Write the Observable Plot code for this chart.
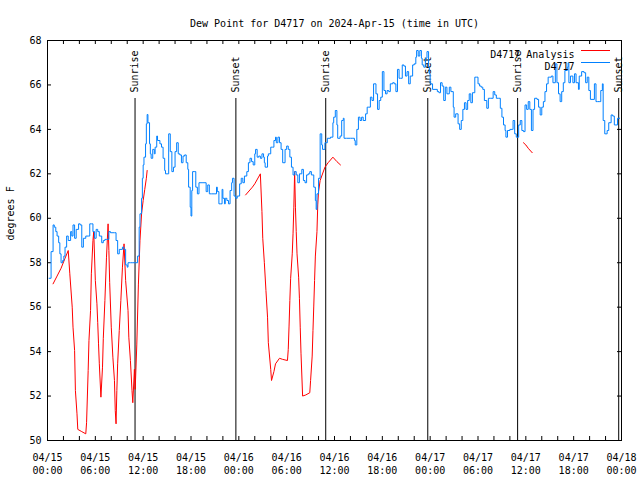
<!DOCTYPE html>
<html>
<head>
<meta charset="utf-8">
<script src="https://cdn.jsdelivr.net/npm/d3@7"></script>
<script src="https://cdn.jsdelivr.net/npm/@observablehq/plot@0.6"></script>
<style>
  html, body { margin: 0; padding: 0; background: white; }
</style>
</head>
<body>
<div id="chart"></div>
<script>
// ---- data (hours since 2024-04-15 00:00 UTC) ----
const titleText = "Dew Point for D4717 on 2024-Apr-15 (time in UTC)";
const yLabel = "degrees F";
const obsName = "D4717";
const anaName = "D4717 Analysis";

const xTickHours = [0, 6, 12, 18, 24, 30, 36, 42, 48, 54, 60, 66, 72];
const xTickLabels = ["04/15\n00:00", "04/15\n06:00", "04/15\n12:00", "04/15\n18:00",
  "04/16\n00:00", "04/16\n06:00", "04/16\n12:00", "04/16\n18:00",
  "04/17\n00:00", "04/17\n06:00", "04/17\n12:00", "04/17\n18:00", "04/18\n00:00"];
const yTicks = [50, 52, 54, 56, 58, 60, 62, 64, 66, 68];

const sunHours = [10.98, 23.63, 34.9, 47.7, 58.97, 71.65];
const sunLabels = ["Sunrise", "Sunset", "Sunrise", "Sunset", "Sunrise", "Sunset"];

const obsHours = [0.2,0.45,0.7,0.85,1.04,1.2,1.4,1.55,1.7,1.9,2.05,2.2,2.4,2.6,2.9,3.05,3.2,3.4,3.6,3.9,4.1,4.3,4.5,4.8,5.1,5.3,5.5,5.7,5.9,6.1,6.3,6.5,6.8,7.0,7.2,7.4,7.7,7.9,8.4,8.6,8.8,9.0,9.4,9.6,9.8,10.0,10.1,10.4,10.7,11.0,11.3,11.5,11.6,11.8,11.9,12.0,12.1,12.3,12.4,12.5,12.6,12.8,12.9,13.0,13.2,13.4,13.5,13.7,13.8,14.1,14.3,14.5,14.7,14.8,15.0,15.2,15.4,15.6,15.8,16.0,16.2,16.4,16.6,16.8,17.0,17.2,17.4,17.6,17.7,17.9,18.0,18.1,18.2,18.4,18.6,18.8,19.0,19.5,19.9,20.1,20.3,20.6,21.0,21.2,21.3,21.5,21.7,21.9,22.0,22.2,22.3,22.5,22.7,22.9,23.1,23.2,23.4,23.6,23.8,24.1,24.3,24.5,24.7,25.0,25.2,25.4,25.6,25.8,26.0,26.1,26.3,26.5,26.7,26.9,27.1,27.2,27.3,27.6,27.7,28.0,28.2,28.4,28.6,28.7,28.9,29.1,29.3,29.5,29.8,30.0,30.2,30.4,30.6,30.8,31.0,31.2,31.4,31.6,31.9,32.1,32.3,32.5,32.7,32.9,33.1,33.4,33.6,33.7,33.8,34.0,34.2,34.4,34.5,34.8,35.1,35.5,35.8,35.9,36.1,36.3,36.4,36.7,36.9,37.1,37.2,37.5,38.0,38.3,38.5,38.6,38.8,39.0,39.2,39.4,39.6,39.9,40.1,40.3,40.5,40.7,40.9,41.2,41.4,41.6,41.8,42.0,42.2,42.4,42.6,42.8,43.0,43.3,43.5,43.7,43.9,44.1,44.3,44.5,44.7,44.9,45.1,45.3,45.5,45.8,46.0,46.2,46.3,46.5,46.7,46.9,47.0,47.2,47.4,47.6,47.8,47.9,48.0,48.3,48.9,49.1,49.3,49.5,49.7,49.9,50.1,50.4,50.6,50.9,51.0,51.2,51.5,51.7,51.9,52.1,52.3,52.5,52.7,52.9,53.1,53.3,53.6,53.8,54.0,54.2,54.4,54.6,54.8,55.1,55.3,55.6,55.9,56.1,56.3,56.6,56.8,57.0,57.2,57.4,57.5,57.7,58.0,58.3,58.4,58.6,58.8,59.1,59.3,59.5,59.7,59.9,60.1,60.3,60.5,60.7,60.9,61.1,61.4,61.6,61.8,62.0,62.2,62.4,62.6,62.8,63.0,63.2,63.4,63.7,63.9,64.1,64.3,64.5,64.7,64.9,65.2,65.3,65.4,65.6,65.9,66.1,66.3,66.6,66.7,67.0,67.3,67.5,67.7,67.9,68.1,68.3,68.6,68.8,69.0,69.2,69.4,69.6,69.7,69.9,70.2,70.4,70.7,70.9,71.1,71.3,71.5,71.8];
const obsValues = [57.3,58.5,59.7,59.6,59.4,59.2,58.9,58.4,58.0,58.1,58.3,58.7,59.2,59.0,59.4,59.2,59.7,59.1,59.5,59.75,59.7,58.7,59.1,59.2,59.2,59.75,59.75,59.4,59.1,59.5,59.4,59.2,58.9,59.0,59.05,59.05,59.4,59.35,59.35,59.0,58.4,58.6,58.7,58.6,57.9,57.8,58.0,58.0,58.0,58.0,58.3,59.6,60.2,60.9,61.8,62.4,62.75,63.35,64.25,64.67,64.3,63.35,62.9,62.7,63.1,62.9,63.2,63.7,63.5,63.35,63.2,62.7,62.15,62.0,62.0,63.8,63.0,62.1,62.3,63.0,63.4,62.9,62.85,62.5,62.8,62.85,62.5,62.2,61.4,60.5,60.1,61.25,62.1,62.1,61.4,61.1,61.6,61.6,61.2,61.5,61.1,61.1,61.1,61.4,61.2,60.65,60.65,61.3,60.9,60.65,60.9,60.8,60.65,61.25,61.6,61.8,61.0,60.9,61.0,61.55,61.8,61.6,61.9,62.1,62.5,62.7,62.55,62.4,62.9,63.1,62.75,62.8,62.7,62.9,62.75,62.5,62.3,62.8,62.9,63.2,63.2,63.5,63.65,63.4,63.65,63.4,63.1,62.5,63.1,63.25,63.1,62.75,62.3,61.95,62.1,61.95,61.6,62.0,62.2,61.7,61.6,61.95,62.0,62.1,61.95,61.4,60.8,60.4,61.1,61.8,63.8,63.3,63.1,63.4,63.6,63.65,64.3,64.55,64.85,64.2,63.6,63.7,64.4,64.5,63.6,63.6,63.6,63.6,63.5,63.3,64.0,64.55,64.4,64.55,64.4,64.7,65.0,65.0,65.45,65.3,66.05,65.6,64.9,65.3,65.45,66.6,65.75,65.6,65.75,65.7,66.05,66.1,66.05,65.7,66.7,66.3,66.3,66.9,66.85,66.4,66.6,66.05,66.4,66.9,66.95,67.25,67.55,67.3,67.55,67.2,66.9,66.8,67.2,67.5,66.8,66.5,66.05,65.8,65.7,65.65,66.1,65.95,65.3,65.9,65.6,65.9,65.7,65.0,64.55,64.7,64.25,64.0,64.4,64.9,65.2,64.9,65.3,65.6,65.2,65.65,66.35,66.35,66.05,65.95,65.9,65.8,65.3,64.95,65.4,65.4,65.7,65.55,65.4,65.4,64.95,64.55,64.2,63.95,63.65,63.95,64.0,64.0,64.4,63.8,63.65,64.2,64.4,63.95,63.9,65.1,64.9,65.25,64.9,63.95,64.9,65.4,65.35,65.0,64.65,65.0,65.25,65.7,66.05,66.35,66.35,66.4,66.1,66.95,66.1,65.6,65.25,65.7,66.1,66.65,66.8,67.0,66.1,66.4,66.1,66.5,66.1,65.8,66.4,66.6,66.55,66.1,66.35,65.75,65.35,65.35,66.05,65.25,65.25,65.25,65.75,66.05,64.4,63.8,63.95,64.3,64.65,64.6,64.2,64.2,64.5,64.5];

// analysis series; NaN marks a gap in the line
const anaHours = [0.7,1.2,1.7,2.2,2.6,2.8,3.1,3.2,3.4,3.5,3.7,3.8,4.3,4.8,4.9,5.1,5.2,5.4,5.5,5.7,5.8,6.0,6.2,6.3,6.4,6.5,6.7,6.9,7.0,7.2,7.4,7.6,7.7,7.8,8.0,8.2,8.4,8.5,8.6,8.7,8.8,9.0,9.2,9.4,9.6,9.8,10.1,10.2,10.4,10.6,10.7,10.9,11.0,11.2,11.4,11.6,11.8,12.0,12.2,12.4,12.5,
  18.0,
  24.85,25.7,26.0,26.7,26.9,27.0,27.2,27.4,27.6,27.7,28.0,28.1,28.4,28.6,29.1,29.5,30.1,30.2,30.3,30.4,30.5,30.7,30.8,30.9,31.0,31.1,31.2,31.3,31.5,31.6,31.7,31.8,32.0,32.4,32.9,33.0,33.2,33.3,33.4,33.5,33.6,33.8,33.9,34.0,34.2,34.8,35.2,35.8,36.3,36.75,
  48.0,
  59.7,60.0,60.3,60.8];
const anaValues = [57.05,57.4,57.75,58.2,58.55,57.5,56.0,55.1,54.05,52.25,51.2,50.5,50.4,50.3,50.8,53.15,54.5,55.85,57.5,59.0,59.4,57.2,56.15,55.3,54.35,53.45,51.95,53.3,54.6,56.3,58.25,59.75,58.55,57.1,55.1,53.75,52.7,51.35,50.75,52.25,53.45,54.95,56.3,57.8,58.85,57.2,55.85,54.65,53.6,52.25,51.7,53.2,52.3,54.3,57.0,59.0,60.2,60.8,61.3,61.8,62.15,
  NaN,
  61.05,61.4,61.55,62.0,60.3,59.1,58.0,56.75,55.55,54.4,53.2,52.7,53.1,53.45,53.7,53.65,53.6,54.1,55.15,56.3,57.3,58.4,59.3,60.5,62.1,60.5,59.4,58.4,57.35,56.4,55.1,53.9,52.0,52.05,52.15,52.7,53.8,54.95,56.05,57.2,58.3,59.4,60.6,61.2,61.7,62.3,62.5,62.75,62.55,62.4,
  NaN,
  63.4,63.3,63.15,62.95];

const obsColor = "#0080ff";
const anaColor = "#ff0000";

// ---- build ----
const obs = obsHours.map((h, i) => ({h, v: obsValues[i]}));
const ana = anaHours.map((h, i) => ({h, v: anaValues[i]}));
const sun = sunHours.map((h, i) => ({h, label: sunLabels[i]}));
const minorX = d3.range(0, 73, 2);

const xDom = [0, 72], yDom = [50, 68];
const W = 640, H = 480, mL = 47, mR = 19, mT = 40, mB = 40;
const pxX = (xDom[1] - xDom[0]) / (W - mL - mR);   // hours per pixel
const pxY = (yDom[1] - yDom[0]) / (H - mT - mB);   // degrees per pixel
const tick = 4;

const sunTop = yDom[1] - 58 * pxY;
const sunText = yDom[1] - 52 * pxY;

const chart = Plot.plot({
  width: W, height: H,
  marginLeft: mL, marginRight: mR, marginTop: mT, marginBottom: mB,
  style: {fontFamily: "'DejaVu Sans Mono', monospace", fontSize: "10px", background: "white", color: "black"},
  x: {domain: xDom},
  y: {domain: yDom},
  marks: [
    Plot.axisX({ticks: xTickHours, tickFormat: (d) => xTickLabels[xTickHours.indexOf(d)], tickSize: 0, tickPadding: 11, lineHeight: 1.3, label: null, fontSize: 10}),
    Plot.axisY({ticks: yTicks, tickSize: 0, tickPadding: 6, label: null, fontSize: 10}),
    // inward ticks
    Plot.ruleX(minorX, {x: d => d, y1: yDom[0], y2: yDom[0] + tick * pxY, stroke: "black"}),
    Plot.ruleX(minorX, {x: d => d, y1: yDom[1], y2: yDom[1] - tick * pxY, stroke: "black"}),
    Plot.ruleY(yTicks, {y: d => d, x1: xDom[0], x2: xDom[0] + tick * pxX, stroke: "black"}),
    Plot.ruleY(yTicks, {y: d => d, x1: xDom[1], x2: xDom[1] - tick * pxX, stroke: "black"}),
    // sunrise / sunset
    Plot.ruleX(sun, {x: "h", y1: yDom[0], y2: sunTop, stroke: "black", strokeWidth: 1}),
    Plot.text(sun, {x: "h", y: sunText, text: "label", rotate: -90, textAnchor: "start", fill: "black", fontSize: 10}),
    // series
    Plot.line(ana, {x: "h", y: "v", stroke: anaColor, strokeWidth: 1, curve: "linear"}),
    Plot.line(obs, {x: "h", y: "v", stroke: obsColor, strokeWidth: 1, curve: "step-after"}),
    Plot.frame({stroke: "black"}),
    // legend
    Plot.text([anaName], {frameAnchor: "top-right", dx: -47, dy: 10, textAnchor: "end", fill: "black", fontSize: 10}),
    Plot.text([obsName], {frameAnchor: "top-right", dx: -47, dy: 22, textAnchor: "end", fill: "black", fontSize: 10}),
    Plot.ruleY([{y: yDom[1] - 10 * pxY, c: anaColor}, {y: yDom[1] - 22 * pxY, c: obsColor}],
      {y: "y", x1: xDom[1] - 40 * pxX, x2: xDom[1] - 11 * pxX, stroke: "c", strokeWidth: 1}),
    // title & y label
    Plot.text([titleText], {frameAnchor: "top", dy: -21, fill: "black", fontSize: 10}),
    Plot.text([yLabel], {frameAnchor: "left", dx: -37, rotate: -90, fill: "black", fontSize: 10})
  ]
});

document.getElementById("chart").append(chart);
</script>
</body>
</html>
